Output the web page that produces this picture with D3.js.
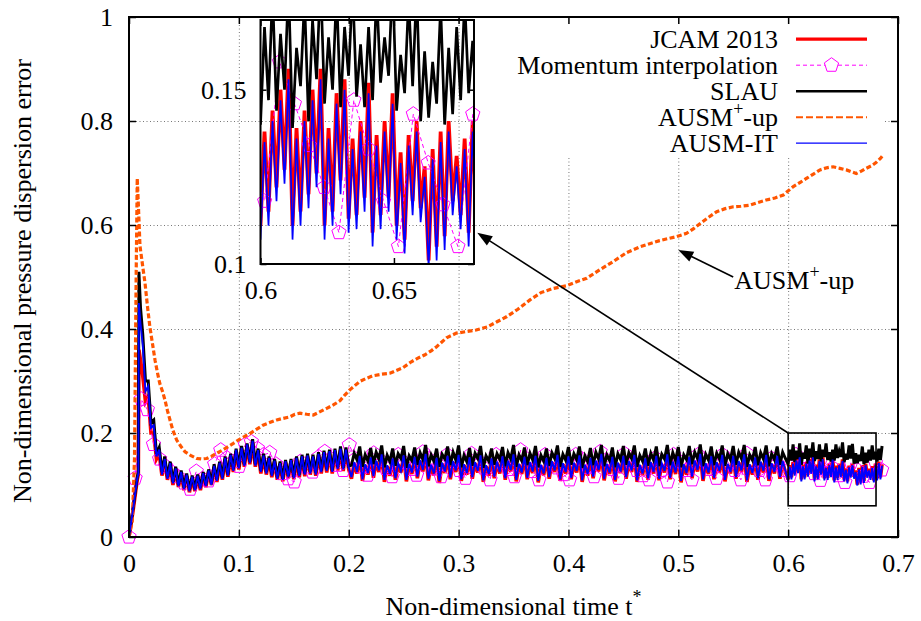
<!DOCTYPE html>
<html><head><meta charset="utf-8">
<script src="https://cdnjs.cloudflare.com/ajax/libs/d3/7.8.5/d3.min.js"></script>
<style>
body{margin:0;background:#fff}
text{font-family:"Liberation Serif","Times New Roman",serif;font-size:26px;fill:#000}
</style>
</head><body>
<svg id="c" width="921" height="621"></svg>
<script>
// ---------------- DATA ----------------
const xTicks = [0, 0.1, 0.2, 0.3, 0.4, 0.5, 0.6, 0.7];
const xTickLabels = ["0", "0.1", "0.2", "0.3", "0.4", "0.5", "0.6", "0.7"];
const yTicks = [0, 0.2, 0.4, 0.6, 0.8, 1];
const yTickLabels = ["0", "0.2", "0.4", "0.6", "0.8", "1"];
const insetXTicks = [0.6, 0.65];
const insetXTickLabels = ["0.6", "0.65"];
const insetYTicks = [0.1, 0.15];
const insetYTickLabels = ["0.1", "0.15"];
const insetXDomain = [0.6, 0.68];
const insetYDomain = [0.1, 0.17];
const zoomBox = [[0.6, 0.06], [0.68, 0.2]];

const seriesNames = ["JCAM 2013", "Momentum interpolation", "SLAU", "AUSM+-up", "AUSM-IT"];

// start-up samples (t < 0.0125)
const tStart = [0, 0.004, 0.0075, 0.0085, 0.009, 0.0105];
const jcamStart   = [0, 0.055, 0.11, 0.12, 0.36, 0.34];
const slauStart   = [0, 0.06, 0.115, 0.125, 0.51, 0.44];
const ausmitStart = [0, 0.058, 0.112, 0.122, 0.45, 0.41];

// output samples every 0.0025 from t = 0.0125 to 0.5975
const coarseT0 = 0.0125, coarseStep = 0.0025;
const slauCoarse = [
.39,.30,.30,.22, .225,.16,.172,.125, .155,.115,.145,.106, .135,.10,.128,.095, .122,.09,.118,.092,
.12,.095,.125,.10, .13,.103,.14,.11, .145,.115,.155,.12, .16,.13,.17,.135, .175,.14,.18,.145,
.188,.14,.17,.128, .16,.125,.155,.12, .15,.115,.145,.112, .148,.118,.15,.116, .155,.12,.158,.122,
.16,.126,.158,.124, .163,.128,.166,.13, .168,.128,.17,.134, .174,.133,.172,.136,
.138,.161,.149,.174, .135,.158,.146,.171, .140,.163,.150,.176, .134,.157,.145,.170, .137,.160,.151,.175,
.133,.156,.147,.172, .139,.162,.149,.177, .136,.158,.146,.170, .135,.159,.150,.174, .138,.163,.148,.176,
.134,.157,.145,.171, .137,.161,.151,.175, .133,.156,.146,.170, .139,.160,.149,.173, .136,.162,.150,.177,
.135,.158,.147,.172, .138,.161,.148,.175, .134,.157,.146,.170, .137,.162,.151,.176, .135,.159,.148,.173,
.139,.160,.149,.174, .133,.156,.145,.171, .138,.163,.150,.177, .136,.158,.147,.172, .134,.160,.149,.175,
.139,.162,.151,.176, .135,.157,.146,.170, .137,.161,.148,.174, .136,.159,.150,.177, .138,.162,.147,.173,
.134,.158,.149,.175, .140,.163,.151,.178, .136,.159,.148,.174, .138,.161,.150,.176, .137,.160,.149,.175,
.139,.163,.151,.177, .135,.158,.148,.173, .138,.162,.150,.176, .136,.160,.149,.174, .139,.163,.151];
const jcamCoarse = [
.31,.26,.27,.20, .20,.15,.16,.118, .145,.11,.138,.10, .13,.096,.122,.09, .117,.086,.113,.088,
.116,.09,.12,.096, .126,.10,.135,.106, .14,.11,.15,.116, .155,.125,.165,.13, .17,.135,.175,.14,
.182,.135,.165,.122, .155,.12,.15,.115, .145,.11,.14,.107, .143,.113,.145,.111, .15,.115,.152,.117,
.155,.12,.153,.118, .157,.122,.16,.124, .162,.122,.164,.128, .167,.127,.165,.13,
.112,.142,.122,.155, .108,.138,.120,.152, .114,.145,.125,.158, .106,.136,.118,.150, .110,.140,.124,.156,
.107,.139,.121,.153, .113,.146,.126,.159, .109,.137,.119,.151, .104,.141,.123,.155, .111,.144,.125,.157,
.108,.138,.120,.152, .112,.142,.124,.156, .106,.136,.118,.150, .113,.143,.122,.154, .110,.145,.126,.158,
.107,.139,.121,.153, .111,.142,.123,.155, .105,.137,.119,.151, .112,.144,.125,.157, .108,.140,.122,.154,
.111,.141,.124,.156, .106,.137,.118,.151, .113,.145,.126,.159, .109,.139,.121,.153, .107,.141,.123,.155,
.112,.144,.125,.157, .106,.137,.119,.150, .110,.142,.122,.155, .109,.140,.124,.158, .111,.143,.121,.154,
.105,.138,.120,.153, .113,.145,.126,.159, .108,.140,.121,.154, .111,.142,.124,.157, .107,.139,.122,.155,
.112,.144,.125,.158, .106,.138,.120,.152, .110,.143,.124,.157, .108,.140,.122,.155, .112,.144,.125];
const ausmitCoarse = [
.37,.28,.29,.21, .215,.155,.168,.12, .15,.112,.142,.103, .132,.098,.125,.092, .12,.088,.116,.09,
.118,.092,.123,.098, .128,.10,.137,.108, .143,.112,.152,.118, .158,.127,.168,.132, .172,.137,.178,.142,
.185,.137,.167,.125, .157,.122,.152,.117, .147,.112,.142,.11, .146,.115,.148,.113, .152,.117,.155,.12,
.157,.122,.155,.12, .16,.125,.163,.127, .165,.125,.167,.131, .17,.13,.168,.133,
.115,.144,.125,.156, .111,.140,.123,.153, .117,.147,.128,.159, .110,.138,.121,.151, .113,.142,.127,.157,
.110,.141,.124,.154, .116,.148,.129,.160, .112,.139,.122,.152, .108,.143,.126,.156, .114,.146,.128,.158,
.111,.140,.123,.153, .115,.144,.127,.157, .109,.138,.121,.151, .116,.145,.125,.155, .113,.147,.129,.159,
.110,.141,.124,.154, .114,.144,.126,.156, .108,.139,.122,.152, .115,.146,.128,.158, .111,.142,.125,.155,
.114,.143,.127,.157, .109,.139,.121,.152, .116,.147,.129,.160, .112,.141,.124,.154, .110,.143,.126,.156,
.115,.146,.128,.158, .109,.139,.122,.151, .113,.144,.125,.156, .112,.142,.127,.159, .114,.145,.124,.155,
.108,.140,.123,.154, .116,.147,.129,.160, .111,.142,.124,.155, .114,.144,.127,.158, .110,.141,.125,.156,
.115,.146,.128,.159, .109,.140,.123,.153, .113,.145,.127,.158, .111,.142,.125,.156, .115,.146,.128];

// output samples every 0.0015 from t = 0.6
const fineT0 = 0.6, fineStep = 0.0015;
const jcamFine = [.111,.138,.115,.144,.122,.150,.127,.156,.111,.139,.115,.144,.120,.150,.126,.156,.111,.139,.115,.149,
.124,.153,.113,.136,.114,.141,.119,.152,.109,.137,.114,.141,.119,.149,.111,.132,.107,.137,.118,.141,
.116,.128,.101,.133,.105,.138,.108,.141,.118,.131,.114,.136,.109,.141,.113,.145,.115,.140];
const ausmitFine = [.107,.135,.111,.141,.118,.147,.123,.153,.107,.136,.111,.141,.116,.147,.122,.153,.107,.136,.111,.146,
.120,.150,.109,.133,.110,.138,.115,.149,.105,.134,.110,.138,.115,.146,.107,.129,.103,.134,.114,.138,
.112,.125,.099,.130,.101,.135,.104,.138,.114,.128,.110,.133,.105,.138,.109,.142,.111,.137];
const slauFine = [.140,.168,.147,.178,.144,.166,.150,.180,.139,.162,.151,.176,.141,.170,.153,.182,.146,.165,.150,.178,
.145,.168,.154,.180,.148,.163,.145,.168,.147,.178,.152,.165,.154,.182,.144,.160,.149,.176,.151,.179,
.141,.161,.142,.158,.146,.174,.140,.162,.143,.168,.147,.176,.149,.164,.145,.170,.148,.175];

// Momentum interpolation: one sample every 0.00557 from t = 0
const momentumStep = 0.00557;
const momentumValues = [0,.113,.265,.245,.178,.150,.136,.125,.116,.104,.092,.126,.112,.108,.140,.167,.152,.145,.136,.178,
.183,.170,.158,.162,.140,.122,.112,.106,.145,.135,.125,.154,.164,.150,.138,.128,.177,.150,.135,.119,
.161,.148,.132,.116,.158,.143,.130,.119,.163,.150,.131,.116,.158,.145,.128,.113,.160,.147,.133,.110,
.158,.143,.130,.116,.167,.150,.126,.110,.158,.146,.133,.120,.110,.158,.150,.134,.116,.164,.148,.130,
.113,.160,.145,.128,.118,.110,.152,.128,.106,.158,.145,.128,.110,.158,.148,.130,.113,.158,.142,.128,
.110,.160,.145,.128,.110,.151,.140,.128,.118,.158,.146,.134,.122,.109,.147,.133,.118,.105,.143,.129,
.117,.105,.143,.129];

// AUSM+-up
const ausmupT = [0,0.003,0.005,0.0065,0.0075,0.0085,0.01,0.0125,0.0146,0.017,0.019,0.0215,0.0237,0.026,0.028,0.0305,0.0328,0.035,0.0373,0.04,
0.0434,0.047,0.051,0.056,0.0616,0.066,0.0707,0.075,0.0798,0.085,0.0904,0.095,0.0995,0.105,0.11,0.116,0.122,0.128,0.1344,0.14,
0.1465,0.151,0.1556,0.162,0.1678,0.174,0.18,0.186,0.192,0.196,0.201,0.21,0.216,0.222,0.23,0.2375,0.243,0.249,0.257,0.263,
0.269,0.275,0.28,0.289,0.298,0.307,0.316,0.326,0.335,0.344,0.354,0.365,0.375,0.386,0.398,0.4075,0.4166,0.4286,0.441,0.453,
0.465,0.474,0.483,0.498,0.5075,0.514,0.52,0.527,0.535,0.542,0.55,0.557,0.565,0.572,0.58,0.588,0.5956,0.6047,0.611,0.617,
0.623,0.629,0.635,0.641,0.647,0.653,0.658,0.662,0.667,0.671,0.676,0.68,0.684,0.6866];
const ausmupV = [0,0.03,0.15,0.5,0.69,0.64,0.56,0.52,0.488,0.44,0.404,0.37,0.34,0.315,0.2955,0.28,0.263,0.243,0.225,0.205,
0.1865,0.175,0.164,0.157,0.151,0.15,0.151,0.155,0.161,0.167,0.174,0.18,0.1865,0.193,0.199,0.207,0.215,0.22,0.225,0.228,
0.231,0.236,0.238,0.236,0.2346,0.241,0.2475,0.254,0.262,0.272,0.283,0.299,0.305,0.31,0.313,0.315,0.32,0.325,0.337,0.344,
0.35,0.358,0.366,0.383,0.392,0.395,0.398,0.404,0.414,0.424,0.438,0.456,0.47,0.478,0.483,0.491,0.4975,0.514,0.53,0.547,
0.558,0.564,0.57,0.5775,0.584,0.593,0.603,0.614,0.6256,0.631,0.635,0.636,0.638,0.643,0.648,0.652,0.6577,0.674,0.682,0.69,
0.698,0.706,0.71,0.712,0.709,0.706,0.702,0.699,0.704,0.709,0.714,0.72,0.728,0.735];

// annotations (data coordinates)
const arrows = [{from:[0.6,0.2], to:[0.317,0.585]}, {from:[0.55,0.5], to:[0.5,0.552]}];
const noteLabel = {at:[0.551,0.495]};

// ---------------- BUILD ----------------
function buildSeries(startV, coarseV, fineV){
  const pts = [];
  tStart.forEach((t,i)=>pts.push([t,startV[i]]));
  coarseV.forEach((v,i)=>pts.push([coarseT0+i*coarseStep, v]));
  fineV.forEach((v,i)=>pts.push([fineT0+i*fineStep, v]));
  return pts;
}
const jcam = buildSeries(jcamStart, jcamCoarse, jcamFine);
const slau = buildSeries(slauStart, slauCoarse, slauFine);
const ausmit = buildSeries(ausmitStart, ausmitCoarse, ausmitFine);
const momentum = momentumValues.map((v,k)=>[k*momentumStep, v]);
const ausmup = ausmupT.map((t,i)=>[t, ausmupV[i]]);

const styles = {
  jcam:{color:"#ff0000", w:3.6, dash:null},
  mom:{color:"#ff00ff", w:1, dash:"4,3"},
  slau:{color:"#000000", w:3.0, dash:null},
  up:{color:"#ff5500", w:3.2, dash:"5,2.5"},
  it:{color:"#0000ff", w:1.9, dash:null}
};

const svg = d3.select("#c");
const M = {l:129, r:898, t:17, b:537};
const I = {l:260.5, r:474, t:20, b:264};
const x = d3.scaleLinear().domain([0,0.7]).range([M.l,M.r]);
const y = d3.scaleLinear().domain([0,1]).range([M.b,M.t]);
const xi = d3.scaleLinear().domain(insetXDomain).range([I.l,I.r]);
const yi = d3.scaleLinear().domain(insetYDomain).range([I.b,I.t]);

const defs = svg.append("defs");
defs.append("clipPath").attr("id","clipMain").append("rect")
  .attr("x",M.l).attr("y",M.t).attr("width",M.r-M.l).attr("height",M.b-M.t);
defs.append("clipPath").attr("id","clipInset").append("rect")
  .attr("x",I.l).attr("y",I.t).attr("width",I.r-I.l).attr("height",I.b-I.t);

// grid
const gridColor = "#777";
const gx = svg.append("g").attr("transform",`translate(0,${M.b})`)
  .call(d3.axisBottom(x).tickValues(xTicks.slice(1,-1)).tickSize(-(M.b-M.t)).tickFormat(""));
const gy = svg.append("g").attr("transform",`translate(${M.l},0)`)
  .call(d3.axisLeft(y).tickValues(yTicks.slice(1,-1)).tickSize(-(M.r-M.l)).tickFormat(""));
[gx,gy].forEach(g=>{
  g.select(".domain").remove();
  g.selectAll("line").attr("stroke",gridColor).attr("stroke-width",1).attr("stroke-dasharray","1,2.5");
});

// legend background (opaque key)
svg.append("rect").attr("x",476).attr("y",18).attr("width",408).attr("height",139).attr("fill","#fff");

function pentagon(cx, cy, r){
  const p = d3.path();
  for(let i=0;i<5;i++){
    const a = -Math.PI/2 + i*2*Math.PI/5;
    const px = cx + r*Math.cos(a), py = cy + r*Math.sin(a);
    if(i===0) p.moveTo(px,py); else p.lineTo(px,py);
  }
  p.closePath();
  return p.toString();
}

function drawSeries(g, data, st, xs, ys, wScale){
  g.append("path").datum(data)
    .attr("d", d3.line().x(d=>xs(d[0])).y(d=>ys(d[1])))
    .attr("fill","none").attr("stroke",st.color).attr("stroke-width",st.w*(wScale||1))
    .attr("stroke-linejoin","miter").attr("stroke-dasharray",st.dash);
}

// main plot data
const mainG = svg.append("g");
const layer1 = mainG.append("g").attr("clip-path","url(#clipMain)");
drawSeries(layer1, jcam, styles.jcam, x, y);
drawSeries(layer1, momentum, styles.mom, x, y);
mainG.append("g").selectAll("path").data(momentum).enter().append("path")
  .attr("d",d=>pentagon(x(d[0]),y(d[1]),7.5))
  .attr("fill","none").attr("stroke",styles.mom.color).attr("stroke-width",1);
const layer2 = mainG.append("g").attr("clip-path","url(#clipMain)");
drawSeries(layer2, slau, styles.slau, x, y);
drawSeries(layer2, ausmup, styles.up, x, y);
drawSeries(layer2, ausmit, styles.it, x, y);

// zoom rectangle
svg.append("rect").attr("x",x(zoomBox[0][0])).attr("y",y(zoomBox[1][1]))
  .attr("width",x(zoomBox[1][0])-x(zoomBox[0][0])).attr("height",y(zoomBox[0][1])-y(zoomBox[1][1]))
  .attr("fill","none").attr("stroke","#000").attr("stroke-width",1.6);

// arrows
arrows.forEach(a=>{
  const x0=x(a.from[0]), y0=y(a.from[1]), x1=x(a.to[0]), y1=y(a.to[1]);
  const dx=x1-x0, dy=y1-y0, L=Math.hypot(dx,dy), ux=dx/L, uy=dy/L;
  const hl=15, hw=5.5;
  const bx=x1-ux*hl, by=y1-uy*hl;
  svg.append("line").attr("x1",x0).attr("y1",y0).attr("x2",bx+ux*2).attr("y2",by+uy*2)
    .attr("stroke","#000").attr("stroke-width",1.6);
  svg.append("path").attr("d",`M${x1},${y1}L${bx-uy*hw},${by+ux*hw}L${bx+uy*hw},${by-ux*hw}Z`).attr("fill","#000");
});
const nl = svg.append("text").attr("x",x(noteLabel.at[0])).attr("y",y(noteLabel.at[1])+9);
nl.append("tspan").text("AUSM");
nl.append("tspan").attr("dy",-11).style("font-size","18px").text("+");
nl.append("tspan").attr("dy",11).text("-up");

// inset data
const insetLayer1 = svg.append("g").attr("clip-path","url(#clipInset)");
drawSeries(insetLayer1, jcam, styles.jcam, xi, yi, 1.05);
drawSeries(insetLayer1, momentum, styles.mom, xi, yi);
svg.append("g").selectAll("path").data(momentum.filter(d=>d[0]>=insetXDomain[0]&&d[0]<=insetXDomain[1]&&d[1]>=insetYDomain[0]&&d[1]<=insetYDomain[1]))
  .enter().append("path").attr("d",d=>pentagon(xi(d[0]),yi(d[1]),7.5))
  .attr("fill","none").attr("stroke",styles.mom.color).attr("stroke-width",1);
const insetLayer2 = svg.append("g").attr("clip-path","url(#clipInset)");
drawSeries(insetLayer2, slau, styles.slau, xi, yi, 0.9);
drawSeries(insetLayer2, ausmup, styles.up, xi, yi);
drawSeries(insetLayer2, ausmit, styles.it, xi, yi, 0.9);

// axes helper
function styleAxis(g){
  g.select(".domain").remove();
  g.selectAll("line").attr("stroke","#000").attr("stroke-width",1.5);
  g.selectAll("text").attr("font-family",'"Liberation Serif","Times New Roman",serif').attr("font-size",26).attr("fill","#000");
}
// main axes
const tk = 7;
styleAxis(svg.append("g").attr("transform",`translate(0,${M.b})`)
  .call(d3.axisBottom(x).tickValues(xTicks).tickSizeInner(-tk).tickSizeOuter(0).tickPadding(16.5)
    .tickFormat((d,i)=>xTickLabels[i])));
styleAxis(svg.append("g").attr("transform",`translate(0,${M.t})`)
  .call(d3.axisTop(x).tickValues(xTicks).tickSizeInner(-tk).tickSizeOuter(0).tickFormat("")));
styleAxis(svg.append("g").attr("transform",`translate(${M.l},0)`)
  .call(d3.axisLeft(y).tickValues(yTicks).tickSizeInner(-tk).tickSizeOuter(0).tickPadding(16)
    .tickFormat((d,i)=>yTickLabels[i])));
styleAxis(svg.append("g").attr("transform",`translate(${M.r},0)`)
  .call(d3.axisRight(y).tickValues(yTicks).tickSizeInner(-tk).tickSizeOuter(0).tickFormat("")));
svg.append("rect").attr("x",M.l).attr("y",M.t).attr("width",M.r-M.l).attr("height",M.b-M.t)
  .attr("fill","none").attr("stroke","#000").attr("stroke-width",2);

// inset axes
const itk = 6;
styleAxis(svg.append("g").attr("transform",`translate(0,${I.b})`)
  .call(d3.axisBottom(xi).tickValues(insetXTicks).tickSizeInner(-itk).tickSizeOuter(0).tickPadding(16.5)
    .tickFormat((d,i)=>insetXTickLabels[i])));
styleAxis(svg.append("g").attr("transform",`translate(0,${I.t})`)
  .call(d3.axisTop(xi).tickValues(insetXTicks).tickSizeInner(-itk).tickSizeOuter(0).tickFormat("")));
styleAxis(svg.append("g").attr("transform",`translate(${I.l},0)`)
  .call(d3.axisLeft(yi).tickValues(insetYTicks).tickSizeInner(-itk).tickSizeOuter(0).tickPadding(14)
    .tickFormat((d,i)=>insetYTickLabels[i])));
styleAxis(svg.append("g").attr("transform",`translate(${I.r},0)`)
  .call(d3.axisRight(yi).tickValues(insetYTicks).tickSizeInner(-itk).tickSizeOuter(0).tickFormat("")));
svg.append("rect").attr("x",I.l).attr("y",I.t).attr("width",I.r-I.l).attr("height",I.b-I.t)
  .attr("fill","none").attr("stroke","#000").attr("stroke-width",2);

// axis titles
const xt = svg.append("text").attr("x",(M.l+M.r)/2).attr("y",615).attr("text-anchor","middle");
xt.append("tspan").text("Non-dimensional time t");
xt.append("tspan").attr("dy",-12).style("font-size","18px").text("*");
svg.append("text").attr("transform","translate(31,281) rotate(-90)").attr("text-anchor","middle")
  .text("Non-dimensional pressure dispersion error");

// legend
const legKeys = ["jcam","mom","slau","up","it"];
const legWidths = {jcam:3.3, mom:1, slau:2.4, up:2, it:1.2};
const legDash = {jcam:null, mom:"4,3", slau:null, up:"7,3", it:null};
const lg = svg.append("g");
seriesNames.forEach((name,i)=>{
  const by = 47.7 + i*26, cy = by - 8.5;
  const t = lg.append("text").attr("x",778).attr("y",by).attr("text-anchor","end");
  if(name === "AUSM+-up"){
    t.append("tspan").text("AUSM");
    t.append("tspan").attr("dy",-11).style("font-size","18px").text("+");
    t.append("tspan").attr("dy",11).text("-up");
  } else t.text(name);
  const k = legKeys[i], st = styles[k];
  lg.append("line").attr("x1",796).attr("x2",867).attr("y1",cy).attr("y2",cy)
    .attr("stroke",st.color).attr("stroke-width",legWidths[k]).attr("stroke-dasharray",legDash[k]);
  if(k==="mom"){
    lg.append("path").attr("d",pentagon(831.5,cy,7.5)).attr("fill","#fff")
      .attr("stroke",st.color).attr("stroke-width",1);
  }
});
</script>
</body></html>
